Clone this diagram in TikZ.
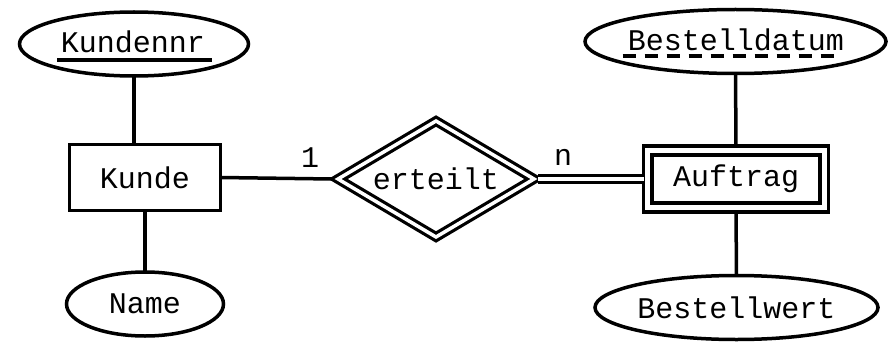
\documentclass[tikz,border=0pt]{standalone}
\usepackage{fontspec}
\newfontfamily\erfont{Liberation Mono}
\usetikzlibrary{shapes.geometric}
\begin{document}
\begin{tikzpicture}[x=1pt,y=-1pt,
  every node/.style={font=\erfont\fontsize{30}{32}\selectfont, inner sep=0pt, outer sep=0pt},
  attr/.style={ellipse, draw, line width=3.5pt, minimum height=64pt},
  ent/.style={rectangle, draw, line width=3.5pt},
  rel/.style={diamond, aspect=1.7, draw, line width=3.2pt, double, double distance=3.5pt, line join=miter},
  conn/.style={line width=3.5pt}]
\useasboundingbox (0,0) rectangle (893,342);
% attributes
\node[attr, minimum width=229pt] (kn) at (134,44) {};
\node (kntext) at (133,42) {Kundennr};
\node[attr, minimum width=157pt] (name) at (145,304) {Name};
\node[attr, minimum width=301pt] (bd) at (735.5,41.5) {};
\node (bdtext) at (736,40) {Bestelldatum};
\node[attr, minimum width=283pt] (bw) at (736.5,307.5) {Bestellwert};
% entities
\node[ent, minimum width=151pt, minimum height=66pt] (kunde) at (145,177.5) {Kunde};
\node[ent, minimum width=185pt, minimum height=66pt] (auf) at (736,179) {};
\node[ent, minimum width=168pt, minimum height=48pt] (aufin) at (736,179) {Auftrag};
% relationship
\node[rel, minimum width=196pt, minimum height=116pt] (er) at (436,179) {erteilt};
% underlines
\draw[conn] ([shift={(-77,16)}]kn.center) coordinate (ul1) -- ([shift={(78,16)}]kn.center) coordinate (ul2);
\draw[line width=4pt, dash pattern=on 13pt off 9pt] ([shift={(-113,14.5)}]bd.center) coordinate (ud1) -- ([shift={(103,14.5)}]bd.center) coordinate (ud2);
% connectors
\draw[conn] (kn.south) -- (kn.south |- kunde.north);
\draw[conn] (kunde.east) -- ([xshift=-6pt]er.west);
\draw[conn] (kunde.south) -- (name.north);
\draw[line width=3pt, double, double distance=3.5pt] ([xshift=4pt]er.east) -- (auf.west);
\draw[conn] (bd.south) -- (auf.north);
\draw[conn] (auf.south) -- (bw.north);
% cardinalities
\node (c1) at (310,158) {1};
\node (cn) at (563,157) {n};
\end{tikzpicture}
\end{document}
